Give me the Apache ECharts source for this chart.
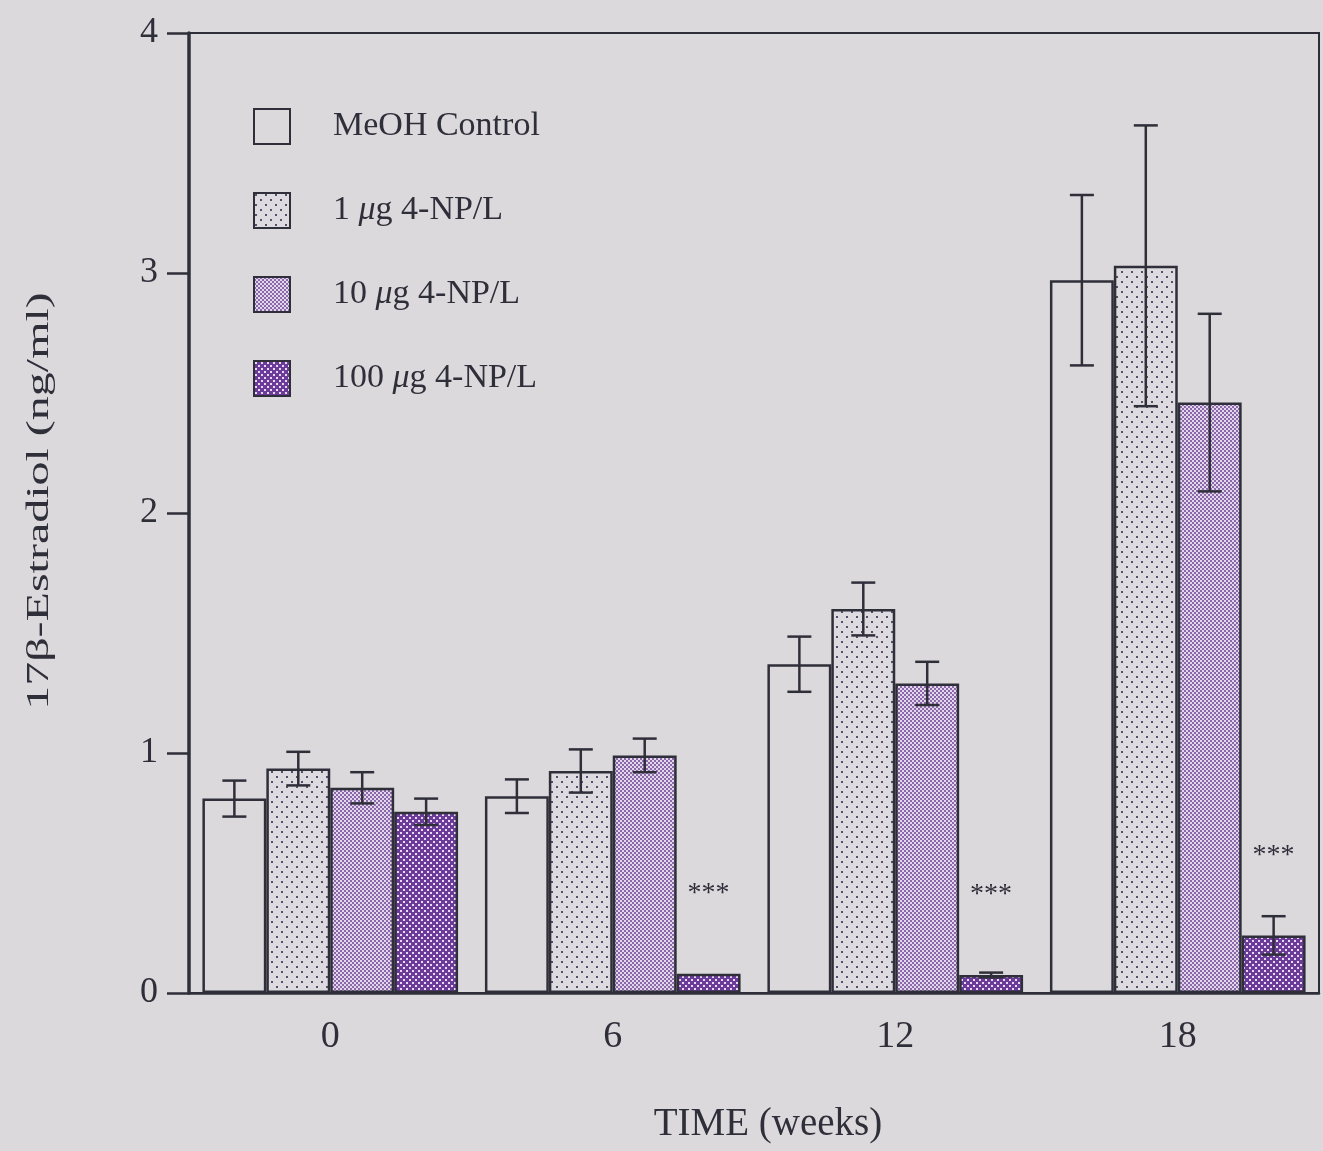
<!DOCTYPE html>
<html><head><meta charset="utf-8">
<script src="https://cdn.jsdelivr.net/npm/echarts@6/dist/echarts.min.js"></script>
<style>html,body{margin:0;padding:0;background:#dcd9dd;}#c{width:1323px;height:1151px;}</style>
</head><body><div id="c"></div>
<script>
const weeks = ['0', '6', '12', '18'];
const seriesNames = ['MeOH Control', '1 μg 4-NP/L', '10 μg 4-NP/L', '100 μg 4-NP/L'];
const meoh = [0.81, 0.82, 1.37, 2.97];
const meohErr = [0.075, 0.07, 0.115, 0.355];
const np1 = [0.935, 0.925, 1.60, 3.03];
const np1Err = [0.07, 0.09, 0.11, 0.585];
const np10 = [0.855, 0.99, 1.29, 2.46];
const np10Err = [0.065, 0.07, 0.09, 0.37];
const np100 = [0.755, 0.08, 0.075, 0.24];
const np100Err = [0.055, 0, 0.01, 0.08];
const sig100 = ['', '***', '***', '***'];
const yTicks = [0, 1, 2, 3, 4];
const xTitle = 'TIME (weeks)';
const yTitle = '17β-Estradiol (ng/ml)';

const values = [meoh, np1, np10, np100];
const errs = [meohErr, np1Err, np10Err, np100Err];

function tile(w, h, draw) {
  const c = document.createElement('canvas'); c.width = w; c.height = h;
  draw(c.getContext('2d')); return c;
}
const patSparse = tile(10, 10, g => {
  g.fillStyle = '#dedbe0'; g.fillRect(0, 0, 10, 10);
  g.fillStyle = '#55506a';
  g.fillRect(1, 1, 2, 2); g.fillRect(6, 6, 2, 2);
});
const patChecker = tile(4, 4, g => {
  g.fillStyle = '#8a68aa'; g.fillRect(0, 0, 4, 4);
  g.fillStyle = '#e2d6ea';
  g.fillRect(0, 0, 2, 2); g.fillRect(2, 2, 2, 2);
});
const patDark = tile(6, 6, g => {
  g.fillStyle = '#6c3b9a'; g.fillRect(0, 0, 6, 6);
  g.fillStyle = '#e6daf0';
  g.fillRect(1, 1, 2, 2); g.fillRect(4, 4, 2, 2);
});
const fills = ['#dcd9dd', {image: patSparse, repeat: 'repeat'}, {image: patChecker, repeat: 'repeat'}, {image: patDark, repeat: 'repeat'}];

const GAP = 0.095;
const serif = 'Liberation Serif';
const ink = '#2f2f3a';

const series = [];
values.forEach((v, i) => {
  series.push({
    name: seriesNames[i], type: 'bar', data: v,
    barGap: '0%', barCategoryGap: (GAP * 100) + '%',
    itemStyle: {color: fills[i], borderColor: ink, borderWidth: 2.5},
    label: i === 3 ? {
      show: true, position: 'top', distance: 66,
      formatter: p => sig100[p.dataIndex],
      fontFamily: serif, fontSize: 28, color: ink
    } : {show: false},
    z: 2
  });
});
values.forEach((v, i) => {
  series.push({
    type: 'custom', name: 'err' + i,
    data: v.map((val, k) => [k, val, errs[i][k]]),
    z: 5,
    renderItem: (params, api) => {
      const k = api.value(0), val = api.value(1), e = api.value(2);
      if (!e) return null;
      const band = api.size([1, 0])[0];
      const bw = band * (1 - GAP) / 4;
      const cx = api.coord([k, val])[0] + (i - 1.5) * bw;
      const yt = api.coord([k, val + e])[1];
      const yb = api.coord([k, val - e])[1];
      const hw = 12;
      const st = {stroke: ink, lineWidth: 2.5};
      return {type: 'group', children: [
        {type: 'line', shape: {x1: cx, y1: yt, x2: cx, y2: yb}, style: st},
        {type: 'line', shape: {x1: cx - hw, y1: yt, x2: cx + hw, y2: yt}, style: st},
        {type: 'line', shape: {x1: cx - hw, y1: yb, x2: cx + hw, y2: yb}, style: st}
      ]};
    }
  });
});

const chart = echarts.init(document.getElementById('c'));
chart.setOption({
  backgroundColor: '#dcd9dd',
  animation: false,
  grid: {left: 189, right: 4, top: 33, bottom: 158, show: true, borderColor: ink, borderWidth: 2, backgroundColor: 'transparent'},
  legend: {
    data: seriesNames.map(n => ({name: n, icon: 'rect'})), orient: 'vertical', left: 253, top: 108, padding: 0,
    itemWidth: 36, itemHeight: 35, itemGap: 47,
    textStyle: {fontFamily: serif, fontSize: 34, lineHeight: 35, color: ink, padding: [0, 0, 0, 38],
      rich: {i: {fontFamily: serif, fontStyle: 'italic', fontSize: 34, lineHeight: 35, color: ink}}},
    formatter: n => n.replace('μ', '{i|μ}'),
    selectedMode: false
  },
  graphic: [{
    type: 'text', x: 40, y: 501, rotation: Math.PI / 2, scaleX: 1.5, scaleY: 1,
    style: {text: yTitle, fontFamily: serif, fontSize: 32, fill: ink, align: 'center', verticalAlign: 'middle'}
  }],
  xAxis: {
    type: 'category', data: weeks,
    axisLine: {lineStyle: {color: ink, width: 2.5}},
    axisTick: {alignWithLabel: true, length: 20, lineStyle: {color: ink, width: 2.5}},
    axisLabel: {fontFamily: serif, fontSize: 38, color: ink, margin: 25},
    name: xTitle, nameLocation: 'middle', nameGap: 112,
    nameTextStyle: {fontFamily: serif, fontSize: 39, color: ink, padding: [0, 0, 0, 28]}
  },
  yAxis: {
    type: 'value', min: 0, max: 4, interval: 1,
    axisLine: {show: true, lineStyle: {color: ink, width: 3.5}},
    axisTick: {show: true, length: 22, lineStyle: {color: ink, width: 2.5}},
    splitLine: {show: false},
    axisLabel: {fontFamily: serif, fontSize: 36, color: ink, margin: 31,
      formatter: v => yTicks.includes(v) ? String(v) : ''}
  },
  series: series
});
</script></body></html>
